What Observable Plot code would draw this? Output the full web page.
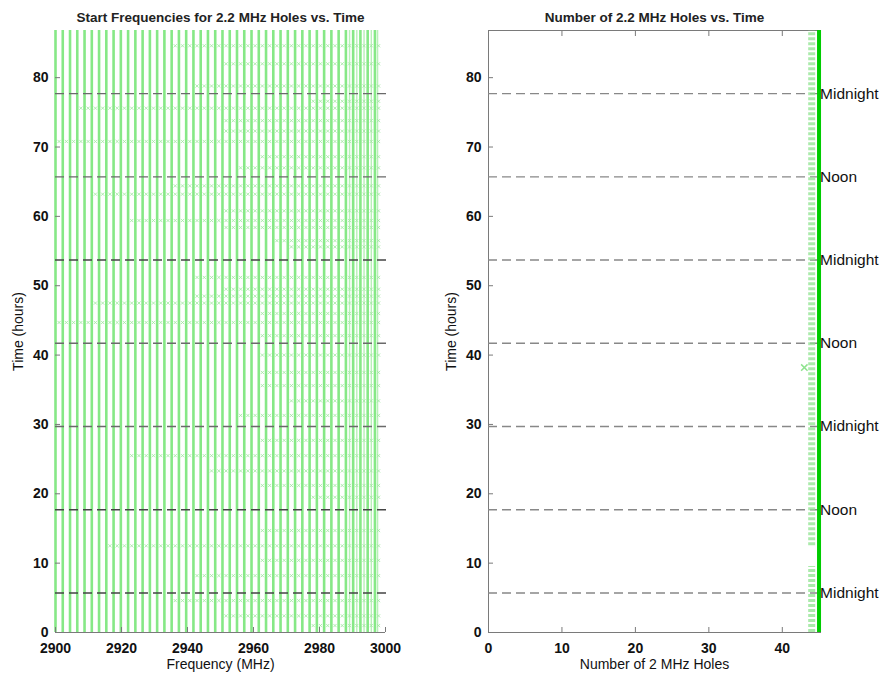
<!DOCTYPE html>
<html><head><meta charset="utf-8">
<script src="https://cdn.jsdelivr.net/npm/d3@7"></script>
<script src="https://cdn.jsdelivr.net/npm/@observablehq/plot@0.6"></script>
<style>
body{margin:0;background:#fff;font-family:"Liberation Sans",Arial,sans-serif;}
#wrap{display:flex;width:888px;height:676px;overflow:hidden;}
svg [aria-label="x-axis tick label"], svg [aria-label="y-axis tick label"]{font-weight:bold;}
</style></head><body><div id="wrap"></div>
<script>
// ---- data ----
const holeFreqs = [2900, 2902.2, 2904.4, 2906.6, 2908.8, 2911, 2913.2, 2915.4, 2917.6, 2919.8,
  2922, 2924.2, 2926.4, 2928.6, 2930.8, 2933, 2935.2, 2937.4, 2939.6, 2941.8,
  2944, 2946.2, 2948.4, 2950.6, 2952.8, 2955, 2957.2, 2959.4, 2961.6, 2963.8,
  2966, 2968.2, 2970.4, 2972.6, 2974.8, 2977, 2979.2, 2981.4, 2983.6, 2985.8,
  2988, 2990.2, 2992.4, 2994.6, 2996.8];
const extraFreqs = [2989.1, 2991.3, 2993.5, 2995.7, 2997.6];
const timeStart = 0;
const timeEnd = 86.8;
const dayTimes = [5.7, 17.7, 29.7, 41.7, 53.7, 65.7, 77.7];
const dayLabels = ["Midnight", "Noon", "Midnight", "Noon", "Midnight", "Noon", "Midnight"];
const shiftTimes = [84.6, 82, 78.8, 76.6, 75.6, 73.8, 72.3, 70.8, 68.6, 67, 64.4, 63.2, 60.8, 59.4, 58.4, 56.5, 55.6,
  51.2, 49.5, 48.5, 47.5, 46, 44.7, 42.8, 40, 37.5, 35.6, 33.4, 31.3, 27.7, 25.5, 23.3, 21.2, 19.5, 14.7, 12.5, 10.4, 8.2, 4.6, 2.4, 1];
const shiftFrom = [2935, 2950, 2940, 2975, 2905, 2950, 2950, 2900, 2960, 2955, 2935, 2910, 2950, 2920, 2950, 2965, 2970,
  2940, 2950, 2940, 2910, 2960, 2900, 2960, 2960, 2960, 2960, 2970, 2955, 2960, 2920, 2945, 2960, 2975, 2960, 2915, 2960, 2940, 2935, 2950, 2975];
const holeCountMain = 45;
const holeCountLow = 44;
const lowStart = [0, 12.5];
const lowEnd = [9.5, 86.8];
const lowerTimes = [38.2];
const lowerCount = 43;
const freqTicks = [2900, 2920, 2940, 2960, 2980, 3000];
const timeTicks = [0, 10, 20, 30, 40, 50, 60, 70, 80];
const countTicks = [0, 10, 20, 30, 40];

// ---- derived tables ----
const shiftDots = [];
shiftTimes.forEach((t, i) => holeFreqs.forEach(f => { if (f >= shiftFrom[i]) shiftDots.push({f, t}); }));
const days = dayTimes.map((t, i) => ({t, label: dayLabels[i]}));
const lowSegs = lowStart.map((s, i) => ({s, e: lowEnd[i]}));

const font = "'Liberation Sans', Arial, sans-serif";
const axisGray = "#7a7a7a";
const fmt = d => String(d);
const style = {fontFamily: font, fontSize: "14px", color: "#111", background: "#fff", overflow: "visible"};
const darkDash = [true, true, false, false, true, false, false];

const left = Plot.plot({
  width: 444, height: 676,
  marginLeft: 55, marginRight: 59, marginTop: 30, marginBottom: 44,
  style,
  x: {domain: [2900, 3000]},
  y: {domain: [0, 86.8]},
  marks: [
    Plot.ruleY([0], {stroke: axisGray}),
    Plot.ruleX(holeFreqs, {y1: timeStart, y2: timeEnd, stroke: "#86e886", strokeWidth: 2.6}),
    Plot.ruleX(extraFreqs, {y1: timeStart, y2: timeEnd, stroke: "#a6eea6", strokeWidth: 1.4, strokeOpacity: 0.8}),
    Plot.dot(shiftDots, {x: "f", y: "t", dx: 3.6, symbol: "times", r: 1.6, stroke: "#9fe89f", strokeWidth: 1, strokeOpacity: 0.8}),
    Plot.ruleY(dayTimes, {x1: 2900, x2: 3001, stroke: (d, i) => darkDash[i] ? "#444" : "#6a6a6a", strokeWidth: 1.4, strokeDasharray: "9,5"}),
    Plot.axisX({ticks: freqTicks, tickFormat: fmt, tickSize: -5, tickPadding: 16, stroke: axisGray, label: "Frequency (MHz)", labelAnchor: "center", labelArrow: "none", labelOffset: 36, fontSize: 14}),
    Plot.axisY({ticks: timeTicks, tickFormat: fmt, tickSize: -5, tickPadding: 12, stroke: axisGray, label: "Time (hours)", labelAnchor: "center", labelArrow: "none", labelOffset: 42, fontSize: 14}),
    Plot.text(["Start Frequencies for 2.2 MHz Holes vs. Time"], {frameAnchor: "top", dy: -18, fontSize: 13.5, fontWeight: "bold", fill: "#222"})
  ]
});

const right = Plot.plot({
  width: 444, height: 676,
  marginLeft: 44, marginRight: 68, marginTop: 30, marginBottom: 44,
  style,
  x: {domain: [0, 45.2]},
  y: {domain: [0, 86.8]},
  marks: [
    Plot.frame({stroke: axisGray}),
    Plot.ruleY(dayTimes, {x1: 0, x2: 45, stroke: "#888", strokeWidth: 1.4, strokeDasharray: "9,5"}),
    Plot.ruleX(lowSegs, {x: () => holeCountLow, y1: "s", y2: "e", stroke: "#8fe38f", strokeWidth: 7, strokeDasharray: "3,2", strokeOpacity: 0.75}),
    Plot.dot(lowerTimes, {x: () => lowerCount, y: d => d, symbol: "times", r: 3, stroke: "#8fe38f"}),
    Plot.ruleX([holeCountMain], {y1: timeStart, y2: timeEnd, stroke: "#00cc00", strokeWidth: 4}),
    Plot.axisX({ticks: countTicks, tickFormat: fmt, tickSize: -5, tickPadding: 16, stroke: axisGray, label: "Number of 2 MHz Holes", labelAnchor: "center", labelArrow: "none", labelOffset: 36, fontSize: 14}),
    Plot.axisX({anchor: "top", ticks: countTicks, tickSize: -5, tickFormat: () => "", stroke: axisGray, label: null}),
    Plot.axisY({ticks: timeTicks, tickFormat: fmt, tickSize: -5, tickPadding: 12, stroke: axisGray, label: "Time (hours)", labelAnchor: "center", labelArrow: "none", labelOffset: 42, fontSize: 14}),
    Plot.text(days, {x: 45, y: "t", text: "label", textAnchor: "start", dx: 1, fontSize: 15.5, fill: "#111"}),
    Plot.text(["Number of 2.2 MHz Holes vs. Time"], {frameAnchor: "top", dy: -18, fontSize: 13.5, fontWeight: "bold", fill: "#222"})
  ]
});

document.getElementById("wrap").append(left, right);
</script></body></html>
